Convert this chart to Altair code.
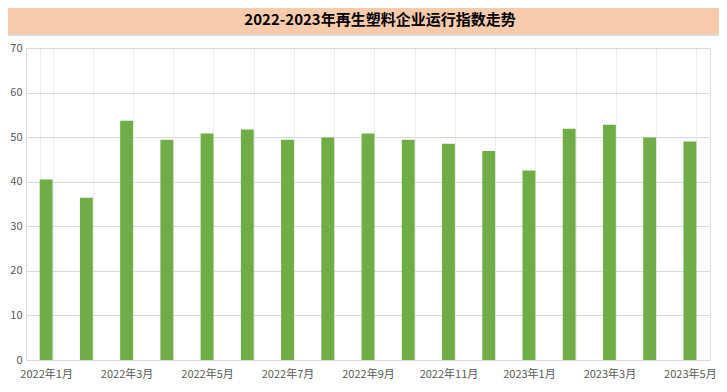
import altair as alt
import pandas as pd

months = ["2022年1月", "2022年2月", "2022年3月", "2022年4月", "2022年5月", "2022年6月",
          "2022年7月", "2022年8月", "2022年9月", "2022年10月", "2022年11月", "2022年12月",
          "2023年1月", "2023年2月", "2023年3月", "2023年4月", "2023年5月"]
values = [40.5, 36.4, 53.7, 49.4, 50.8, 51.7, 49.4, 49.9, 50.8, 49.4, 48.5, 46.9,
          42.5, 51.9, 52.8, 49.9, 49.0]
title_text = "2022-2023年再生塑料企业运行指数走势"

df = pd.DataFrame({"month": months, "value": values})

FONT = "Noto Sans CJK SC"
W = 684

bars = alt.Chart(df).mark_bar(color="#70AD47").encode(
    x=alt.X("month:N", sort=months, title=None,
            scale=alt.Scale(paddingInner=0.68, paddingOuter=0.34),
            axis=alt.Axis(labelAngle=0, tickBand="extent", ticks=False,
                          grid=True, gridColor="#EDEDED",
                          domainColor="#D9D9D9", labelColor="#595959",
                          labelFont=FONT, labelFontSize=11, labelPadding=8,
                          labelExpr="test(regexp('年(1|3|5|7|9|11)月$'), datum.value) ? datum.value : ''",
                          labelOverlap=False)),
    y=alt.Y("value:Q", title=None,
            scale=alt.Scale(domain=[0, 70], nice=False),
            axis=alt.Axis(values=[0, 10, 20, 30, 40, 50, 60, 70], domain=False, ticks=False,
                          gridColor="#D9D9D9", labelColor="#595959",
                          labelFont=FONT, labelFontSize=11, labelPadding=4)),
)

one = alt.Data(values=[{"t": title_text}])

band = alt.Chart(one).mark_rect(color="#F8CBAD").encode(
    x=alt.value(-18), x2=alt.value(W + 9), y=alt.value(-40), y2=alt.value(-14))
band_line = alt.Chart(one).mark_rule(color="#D9D9D9", strokeWidth=2).encode(
    x=alt.value(-18), x2=alt.value(W + 9), y=alt.value(-13))
title = alt.Chart(one).mark_text(font=FONT, fontSize=15, fontWeight="bold",
                                 color="#000000", align="center", baseline="middle").encode(
    x=alt.value(354), y=alt.value(-28), text="t:N")

chart = alt.layer(bars, band, band_line, title).properties(
    width=W, height=312,
    autosize=alt.AutoSizeParams(type="none"),
    padding={"left": 18, "top": 40, "right": 9, "bottom": 24},
).configure_view(stroke=None).configure(background="white")

chart.save("out.html", embed_options={"renderer": "svg", "actions": False})
